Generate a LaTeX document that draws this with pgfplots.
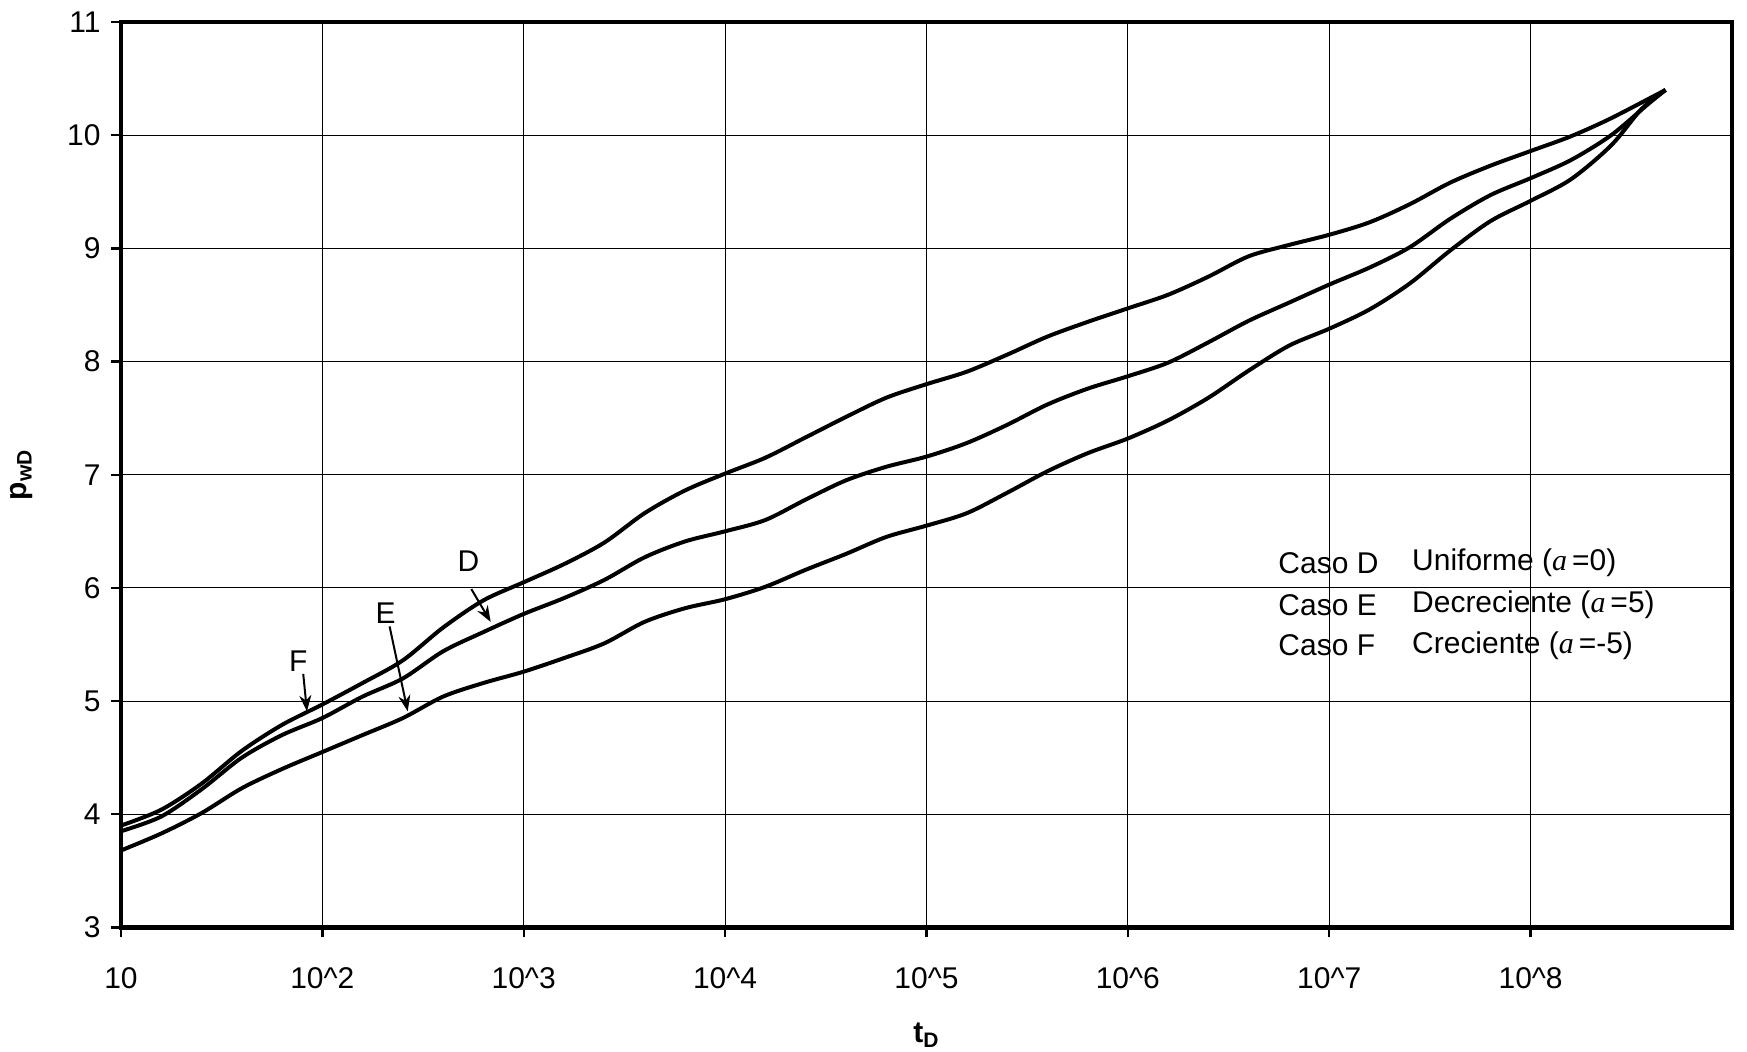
\documentclass[border=0pt]{standalone}
\usepackage{fontspec}
\setmainfont{Liberation Sans}
\newfontfamily\seriffont{Liberation Serif}
\usepackage{pgfplots}
\pgfplotsset{compat=1.18}
\usetikzlibrary{arrows.meta}

\newcommand{\al}{{\seriffont\itshape a}}

\begin{document}
\fontsize{15}{18}\selectfont
\begin{tikzpicture}
\useasboundingbox (-60.5pt,-62pt) rectangle (813.5pt,464pt);
\begin{axis}[
  at={(0,0)}, anchor=south west,
  scale only axis, width=806pt, height=453pt,
  xmode=log, log basis x=10,
  xmin=10, xmax=1e9, ymin=3, ymax=11,
  xtick={10,100,1000,1e4,1e5,1e6,1e7,1e8},
  xticklabels={10,10\textasciicircum2,10\textasciicircum3,10\textasciicircum4,10\textasciicircum5,10\textasciicircum6,10\textasciicircum7,10\textasciicircum8},
  ytick={3,4,...,11},
  xminorticks=false,
  grid=major,
  major grid style={black, line width=0.5pt},
  axis line style={line width=2.2pt},
  tick pos=left, tick align=outside,
  major tick length=5pt,
  tick style={black, line width=1.2pt},
  /pgf/number format/assume math mode=true,
  every tick label/.append style={font=\fontsize{15}{18}\selectfont},
  xticklabel style={yshift=-10pt},
  xlabel={\textbf{t\textsubscript{D}}},
  ylabel={\textbf{p\textsubscript{wD}}},
  xlabel style={at={(axis description cs:0.5,-0.1192)}, anchor=center},
  ylabel style={at={(axis description cs:-0.0614,0.5)}, anchor=center},
  curve/.style={black, line width=2pt, smooth, no marks},
]

% Caso F: creciente (a = -5)
\addplot[curve] coordinates {
(1e1,3.90) (1.585e1,4.04) (2.512e1,4.27) (3.981e1,4.56) (6.310e1,4.79)
(1e2,4.97) (1.585e2,5.16) (2.512e2,5.36) (3.981e2,5.65) (6.310e2,5.89)
(1e3,6.05) (1.585e3,6.21) (2.512e3,6.40) (3.981e3,6.66) (6.310e3,6.86)
(1e4,7.01) (1.585e4,7.15) (2.512e4,7.33) (3.981e4,7.51) (6.310e4,7.68)
(1e5,7.80) (1.585e5,7.91) (2.512e5,8.06) (3.981e5,8.22) (6.310e5,8.35)
(1e6,8.47) (1.585e6,8.59) (2.512e6,8.75) (3.981e6,8.93) (6.310e6,9.03)
(1e7,9.12) (1.585e7,9.23) (2.512e7,9.39) (3.981e7,9.58) (6.310e7,9.73)
(1e8,9.86) (1.585e8,9.99) (2.512e8,10.15) (4.677e8,10.40)
};

% Caso D: uniforme (a = 0)
\addplot[curve] coordinates {
(1e1,3.85) (1.585e1,3.98) (2.512e1,4.22) (3.981e1,4.50) (6.310e1,4.70)
(1e2,4.85) (1.585e2,5.04) (2.512e2,5.20) (3.981e2,5.44) (6.310e2,5.61)
(1e3,5.77) (1.585e3,5.91) (2.512e3,6.07) (3.981e3,6.27) (6.310e3,6.41)
(1e4,6.50) (1.585e4,6.60) (2.512e4,6.78) (3.981e4,6.95) (6.310e4,7.07)
(1e5,7.16) (1.585e5,7.28) (2.512e5,7.44) (3.981e5,7.62) (6.310e5,7.76)
(1e6,7.87) (1.585e6,7.99) (2.512e6,8.17) (3.981e6,8.36) (6.310e6,8.52)
(1e7,8.68) (1.585e7,8.83) (2.512e7,9.01) (3.981e7,9.26) (6.310e7,9.47)
(1e8,9.62) (1.585e8,9.78) (2.512e8,10.00) (3.802e8,10.27) (4.677e8,10.40)
};

% Caso E: decreciente (a = 5)
\addplot[curve] coordinates {
(1e1,3.68) (1.585e1,3.83) (2.512e1,4.01) (3.981e1,4.23) (6.310e1,4.40)
(1e2,4.55) (1.585e2,4.70) (2.512e2,4.85) (3.981e2,5.04) (6.310e2,5.16)
(1e3,5.26) (1.585e3,5.38) (2.512e3,5.51) (3.981e3,5.70) (6.310e3,5.82)
(1e4,5.90) (1.585e4,6.01) (2.512e4,6.16) (3.981e4,6.30) (6.310e4,6.45)
(1e5,6.55) (1.585e5,6.66) (2.512e5,6.84) (3.981e5,7.03) (6.310e5,7.19)
(1e6,7.32) (1.585e6,7.48) (2.512e6,7.68) (3.981e6,7.92) (6.310e6,8.14)
(1e7,8.29) (1.585e7,8.46) (2.512e7,8.69) (3.981e7,8.98) (6.310e7,9.24)
(1e8,9.42) (1.585e8,9.61) (2.512e8,9.91) (3.548e8,10.23) (4.677e8,10.40)
};

% curve labels with pointers
\node at (axis cs:531,6.24) {D};
\node at (axis cs:206.5,5.78) {E};
\node at (axis cs:75.9,5.35) {F};
\draw[line width=1pt, -{Stealth[length=8pt,width=6pt]}] (axis cs:549.5,5.99) -- (axis cs:685.5,5.70);
\draw[line width=1pt, -{Stealth[length=8pt,width=6pt]}] (axis cs:215.8,5.66) -- (axis cs:265.5,4.91);
\draw[line width=1pt, -{Stealth[length=8pt,width=6pt]}] (axis cs:80.4,5.24) -- (axis cs:83.9,4.91);

% key to the cases
\node[anchor=west, inner sep=0pt] at (axis cs:5.57e6,6.22) {Caso D};
\node[anchor=west, inner sep=0pt] at (axis cs:5.57e6,5.85) {Caso E};
\node[anchor=west, inner sep=0pt] at (axis cs:5.57e6,5.49) {Caso F};
\node[anchor=west, inner sep=0pt] at (axis cs:2.57e7,6.22) {Uniforme (\al\,=0)};
\node[anchor=west, inner sep=0pt] at (axis cs:2.57e7,5.85) {Decreciente (\al\,=5)};
\node[anchor=west, inner sep=0pt] at (axis cs:2.57e7,5.49) {Creciente (\al\,=-5)};
\end{axis}
\end{tikzpicture}
\end{document}
